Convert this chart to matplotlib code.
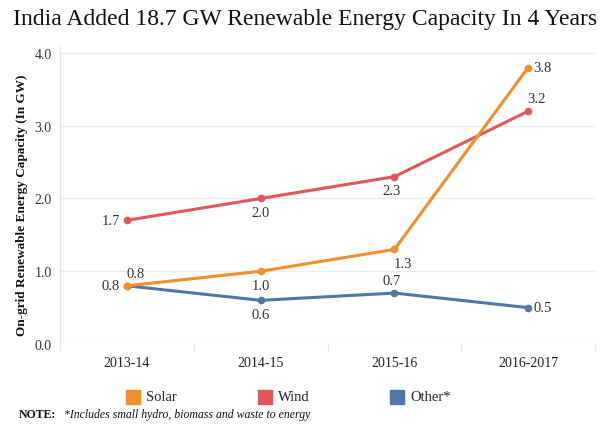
import matplotlib
matplotlib.use('Agg')
import matplotlib.pyplot as plt
from matplotlib.patches import Rectangle

plt.rcParams['font.family'] = ['Liberation Serif', 'DejaVu Serif']

years = ['2013-14', '2014-15', '2015-16', '2016-2017']
solar = [0.8, 1.0, 1.3, 3.8]
wind = [1.7, 2.0, 2.3, 3.2]
other = [0.8, 0.6, 0.7, 0.5]
yticks = [0.0, 1.0, 2.0, 3.0, 4.0]

colors = {
    'Solar': '#F28E2B',
    'Wind': '#E15759',
    'Other*': '#4E79A7',
}

# label placement per point: (dx, dy) in points, ha
place = {
    'Other*': [(-5, 0, 'right'), (0, -10, 'center'), (-2, 9, 'center'), (4, 0, 'left')],
    'Wind': [(-5, 0, 'right'), (0, -10, 'center'), (-2, -10, 'center'), (6, 9, 'center')],
    'Solar': [(6, 9, 'center'), (0, -10, 'center'), (6, -10, 'center'), (4, 0, 'left')],
}
series = [('Other*', other), ('Wind', wind), ('Solar', solar)]

fig = plt.figure(figsize=(6.05, 4.31), dpi=100)
ax = fig.add_axes([60/605, 86/431, 535/605, 298.3/431])

x = list(range(len(years)))
for name, vals in series:
    ax.plot(x, vals, color=colors[name], lw=2.2, marker='o', ms=4.5,
            solid_capstyle='round', zorder=3)
    for xi, v, (dx, dy, ha) in zip(x, vals, place[name]):
        ax.annotate(f'{v:.1f}', (xi, v), xytext=(dx, dy), textcoords='offset points',
                    ha=ha, va='center', fontsize=10.5, color='#333333', zorder=4)

ax.set_xlim(-0.5, len(years) - 0.5)
ax.set_ylim(0, 4.1)
ax.set_yticks(yticks)
ax.set_yticklabels([f'{t:.1f}' for t in yticks])
ax.set_xticks(x)
ax.set_xticklabels(years)
ax.set_xticks([i - 0.5 for i in range(len(years) + 1)], minor=True)
ax.tick_params(axis='x', which='major', length=0, pad=9, labelsize=10, labelcolor='#222222')
ax.tick_params(axis='x', which='minor', length=5, color='#e6e6e6', width=1)
ax.tick_params(axis='y', length=0, pad=6, labelsize=10, labelcolor='#333333')
ax.grid(axis='y', color='#ebebeb', lw=1)
ax.set_axisbelow(True)
for s in ['top', 'right', 'bottom']:
    ax.spines[s].set_visible(False)
ax.spines['left'].set_color('#e6e6e6')

ax.set_ylabel('On-grid Renewable Energy Capacity (In GW)', fontsize=9.5,
              fontweight='bold', color='#111111', labelpad=10)
ax.yaxis.set_label_coords(-0.06, 0.47)

fig.text(305/605, 1 - 20/431, 'India Added 18.7 GW Renewable Energy Capacity In 4 Years',
         ha='center', va='center', fontsize=17, color='#111111')

# legend
for i, name in enumerate(['Solar', 'Wind', 'Other*']):
    x0 = 126 + i * 132
    fig.patches.append(Rectangle((x0/605, 1 - 405/431), 14/605, 14/431,
                                 transform=fig.transFigure, color=colors[name]))
    fig.text((x0 + 20)/605, 1 - 398/431, name, ha='left', va='center',
             fontsize=10.5, color='#222222')

fig.text(19/605, 1 - 415/431, 'NOTE:', ha='left', va='center', fontsize=8.5,
         fontweight='bold', color='#111111')
fig.text(64/605, 1 - 415/431, '*Includes small hydro, biomass and waste to energy',
         ha='left', va='center', fontsize=8.5, style='italic', color='#111111')

fig.savefig('out.png', dpi=100)
